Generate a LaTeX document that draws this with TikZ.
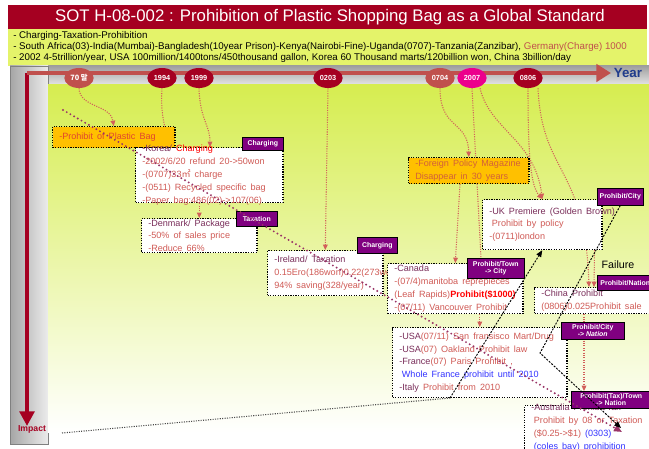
\documentclass[tikz,border=0pt]{standalone}
\usepackage{fontspec}
\setmainfont{Liberation Sans}
\newfontfamily\krfont{Noto Sans CJK KR}
\usepackage{tikz}
\usetikzlibrary{shapes,arrows.meta,backgrounds,%
positioning,calc,shadings%
}
\pgfdeclarelayer{back}
\pgfdeclarelayer{links}
\pgfsetlayers{back,links,main}

\definecolor{titlered}{HTML}{A50021}
\definecolor{hdrback}{HTML}{E4F36A}
\definecolor{areatop}{HTML}{D6ED50}
\definecolor{ltred}{HTML}{C0504D}
\definecolor{txtred}{HTML}{D05A55}
\definecolor{txtplum}{HTML}{7A2E5A}
\definecolor{txtblue}{HTML}{3333FF}
\definecolor{tagpurple}{HTML}{800080}
\definecolor{lnred}{HTML}{D25F5A}
\definecolor{diagpurple}{HTML}{993366}
\definecolor{boxorange}{HTML}{FFC000}
\definecolor{prohred}{HTML}{E0452F}
\definecolor{fpred}{HTML}{D2603A}
\definecolor{yearblue}{HTML}{203C8C}

\newdimen\pxunit \pxunit=0.75pt
\newcommand{\boxlines}[3]{\parbox[c][#2\pxunit][c]{#1\pxunit}{\raggedright
  \hyphenpenalty=10000 \exhyphenpenalty=10000 \spaceskip=.45em plus .1em\relax #3}}

\begin{document}
\begin{tikzpicture}[x=0.75pt,y=-0.75pt,
    box/.style={draw=black,densely dotted,line width=0.9pt,fill=white,anchor=north west,
      inner xsep=5pt,inner ysep=0pt,text=txtred,font=\fontsize{6.8}{9.6}\selectfont},
    orangebox/.style={box,fill=boxorange},
    tag/.style={draw=black,line width=0.4pt,fill=tagpurple,text=white,anchor=north west,
      inner sep=0pt,align=center,font=\fontsize{5.2}{5.6}\selectfont\bfseries},
    yr/.style={ellipse,fill=titlered,text=white,minimum width=22pt,minimum height=15pt,
      inner sep=0pt,font=\fontsize{5.5}{6}\selectfont\bfseries},
    link/.style={lnred,densely dotted,line width=0.8pt,-{Triangle[length=4pt,width=3.5pt]}},
    blackdash/.style={black,dash pattern=on 1.5pt off 1pt,line width=0.7pt,-{Triangle[length=5pt,width=4pt]}}]
  \useasboundingbox (0,0) rectangle (649,449);

  % frame
  \begin{pgfonlayer}{back}
    \fill[titlered] (8,5) rectangle (647,29);
    \fill[hdrback] (8,29) rectangle (647,66);
    \shade[top color=gray!75,bottom color=gray!20] (10,66) rectangle (649,85);
    \shade[left color=gray!70,right color=gray!15,draw=gray] (10,66) rectangle (48,444);
    \shade[top color=areatop,bottom color=white] (48,85) rectangle (649,432);
  \end{pgfonlayer}

  \node[text=white,font=\fontsize{12.6}{13}\selectfont] (title) at (330,17)
    {SOT H-08-002 : Prohibition of Plastic Shopping Bag as a Global Standard};
  \node[anchor=west,inner sep=0pt,font=\fontsize{7.3}{8}\selectfont] (hdr1) at (13,36)
    {- Charging-Taxation-Prohibition};
  \node[anchor=west,inner sep=0pt,font=\fontsize{7.3}{8}\selectfont] (hdr2) at (13,47)
    {- South Africa(03)-India(Mumbai)-Bangladesh(10year Prison)-Kenya(Nairobi-Fine)-Uganda(0707)-Tanzania(Zanzibar), {\color{ltred}Germany(Charge) 1000}};
  \node[anchor=west,inner sep=0pt,font=\fontsize{7.3}{8}\selectfont] (hdr3) at (13,58)
    {- 2002 4-5trillion/year, USA 100million/1400tons/450thousand gallon, Korea 60 Thousand marts/120billion won, China 3billion/day};

  % axes
  \coordinate (origin) at (27,73);
  \coordinate (yearend) at (611,73);
  \coordinate (impactend) at (27,426);
  \draw[titlered,line width=3pt,-{Triangle[length=11pt,width=11pt]}] (origin) -- (impactend);
  \draw[ltred,line width=3pt,-{Triangle[length=11pt,width=13pt]}] (origin) -- (yearend);
  \node[text=yearblue,font=\bfseries\fontsize{10}{10}\selectfont] (year) at (628,73) {Year};
  \node[text=titlered,font=\bfseries\fontsize{6.5}{7}\selectfont] (impact) at (32,429) {Impact};

  \node[yr,fill=ltred] (y70) at (79,78) {\krfont 70 말};
  \node[yr] (y1994) at (162,78) {1994};
  \node[yr] (y1999) at (199,78) {1999};
  \node[yr] (y0203) at (328,78) {0203};
  \node[yr,fill=ltred] (y0704) at (440,78) {0704};
  \node[yr,fill=magenta] (y2007) at (472,78) {2007};
  \node[yr] (y0806) at (528,78) {0806};

  % events
  \node[orangebox,text=prohred] (prohibit) at (52,126) {\boxlines{109}{21}{-Prohibit of Plastic Bag}};
  \node[box] (korea) at (135,147) {\boxlines{134}{55}{{\color{txtplum}-Korea/} {\color{red}Charging}\\
    -2002/6/20 refund 20->50won\\-(0707)33{\krfont ㎡} charge\\-(0511) Recycled specific bag\\-Paper bag:486(02)->107(06)}};
  \node[box] (denmark) at (141,218) {\boxlines{102}{34}{{\color{txtplum}-Denmark/ Package}\\
    -50\% of sales price\\-Reduce 66\%}};
  \node[box] (ireland) at (267,250) {\boxlines{102}{45}{{\color{txtplum}-Ireland/ Taxation}\\
    0.15Ero(186won)0.22(273won)\\94\% saving(328/year)}};
  \node[box] (canada) at (387,263) {\boxlines{122}{50}{{\color{txtplum}-Canada}\\
    -(07/4)manitoba reprepieces\\(Leaf Rapids){\color{red}\bfseries Prohibit(\$1000)}\\-(07/11) Vancouver Prohibit}};
  \node[orangebox,text=fpred] (foreign) at (408,157) {\boxlines{107}{26}{-Foreign Policy Magazine\\
    Disappear in 30 years}};
  \node[box] (uk) at (482,199) {\boxlines{106}{50}{\mbox{\color{txtplum}-UK Premiere (Golden Brown)}\\
    \hspace{2pt}Prohibit by policy\\-(0711)london}};
  \node[box] (china) at (534,287) {\boxlines{111}{26}{{\color{txtplum}-China Prohibit}\\
    (0806)0.025Prohibit sale}};
  \node[box] (usa) at (392,327) {\boxlines{161}{70}{{\color{txtplum}-USA}(07/11) San fransisco Mart/Drug\\
    {\color{txtplum}-USA}(07) Oakland Prohibit law\\{\color{txtplum}-France}(07) Paris Prohibit ,\\
    {\color{txtblue}\hspace{2pt}Whole France prohibit until 2010}\\{\color{txtplum}-Italy} Prohibit from 2010}};
  \node[box] (australia) at (524,405) {\boxlines{116}{44}{{\color{txtplum}-Australia Prohibit/Tax}\\
    \hspace{2pt}Prohibit by 08 or Taxation\\\hspace{2pt}(\$0.25->\$1) {\color{txtblue}(0303)}\\
    {\color{txtblue}\hspace{2pt}(coles bay) prohibition}}};

  \node[tag,minimum width=30.75pt,minimum height=9.75pt] (chg1) at (242,137) {Charging};
  \node[tag,minimum width=30.75pt,minimum height=11.25pt] (tax) at (236,211) {Taxation};
  \node[tag,minimum width=30pt,minimum height=12pt] (chg2) at (357,237) {Charging};
  \node[tag,minimum width=42.75pt,minimum height=15pt] (town) at (467,258) {Prohibit/Town\\-> City};
  \node[tag,minimum width=34.5pt,minimum height=12.75pt] (city) at (597,188) {Prohibit/City};
  \node[tag,minimum width=42pt,minimum height=11.25pt] (nation) at (597,275) {Prohibit/Nation};
  \node[tag,minimum width=47.25pt,minimum height=12.75pt] (citynat) at (561,322) {Prohibit/City\\-> \textit{Nation}};
  \node[tag,minimum width=60pt,minimum height=12.75pt] (taxtown) at (571,391) {Prohibit(Tax)/Town\\-> Nation};
  \node[font=\fontsize{8}{8}\selectfont] (failure) at (618,265) {Failure};

  % time links
  \begin{pgfonlayer}{links}
    \draw[link] (y70.south) .. controls (80,108) and (110,104) .. (prohibit.north);
    \draw[link] (y1994.south) .. controls (160,120) and (167,128) .. ($(korea.north west)+(32,0)$);
    \draw[link] (y1999.south) .. controls (200,120) and (210,125) .. ($(korea.north west)+(75,0)$);
    \draw[link] (korea.south -| denmark.north) -- (denmark.north);
    \draw[link] (y0203.south) -- (ireland.north);
    \draw[link] (y0704.south) .. controls (440,130) and (468,120) .. (foreign.north);
    \draw[link,-] (y2007.south) -- ($(town.north west)+(14,0)$);
    \draw[link] ($(foreign.south west)+(52,0)$) -- (canada.north);
    \draw[link] ($(y2007.south)+(8,0)$) .. controls (490,130) and (535,140) .. (uk.north);
    \draw[link] (y0806.south) .. controls (528,150) and (530,185) .. (uk.north);
    \draw[link] ($(y0806.south)+(10,0)$) .. controls (542,175) and (585,165) .. ($(china.north west)+(55,0)$);
    \draw[link] ($(uk.south east)+(-8,0)$) -- ($(china.north west)+(60,0)$);
    \draw[link] ($(china.south west)+(50,0)$) -- ($(taxtown.north west)+(13,0)$);
    \draw[link] (canada.south -| usa.north) -- (usa.north);
  \end{pgfonlayer}

  % trends
  \coordinate (diagstart) at (63,110);
  \coordinate (diagend) at (622,432);
  \draw[diagpurple,line width=1.6pt,line cap=round,dash pattern=on 0pt off 3.2pt,
    -{Triangle[length=6pt,width=5pt]}] (diagstart) -- (diagend);
  \coordinate (trendstart) at (62,433);
  \coordinate (trendbend) at (450,398);
  \draw[gray!60!black,densely dotted,line width=0.8pt] (trendstart) -- (trendbend);
  \draw[blackdash] (trendbend) -- (uk.south);
  \coordinate (fallbend) at (540,353);
  \coordinate (fallend) at (621,428);
  \draw[blackdash] (city.south) -- (fallbend) -- (fallend);
\end{tikzpicture}
\end{document}
